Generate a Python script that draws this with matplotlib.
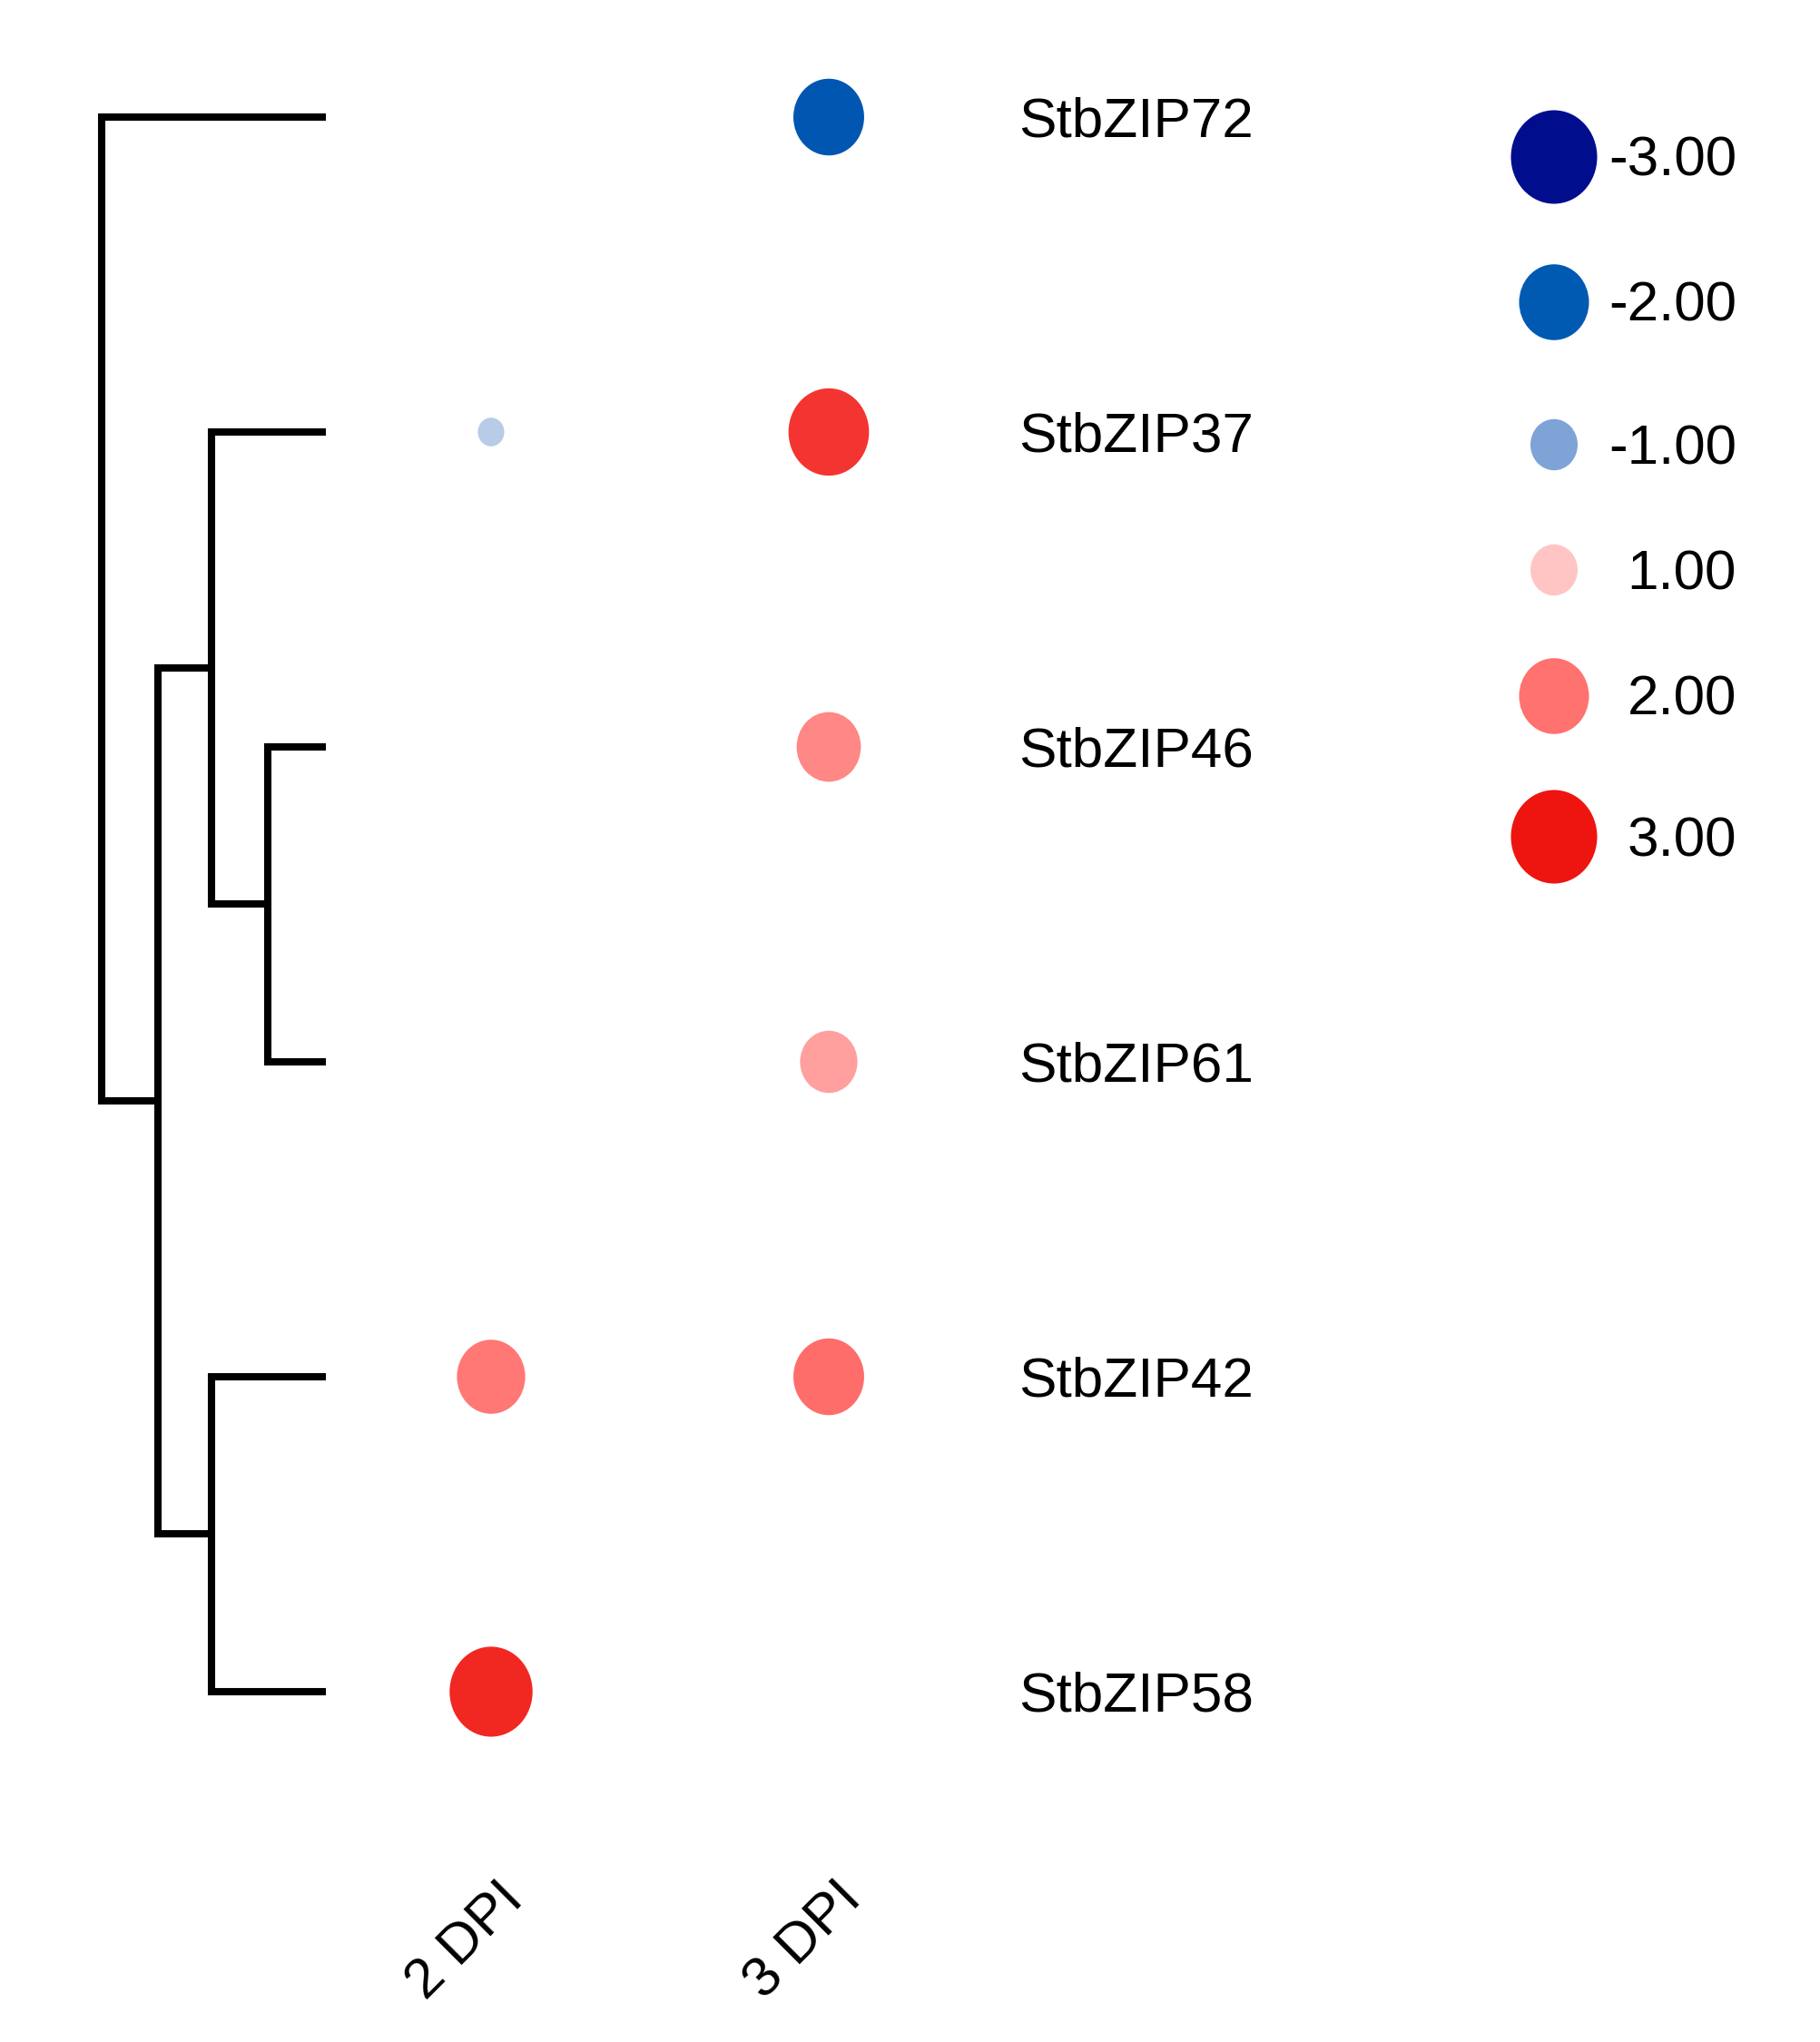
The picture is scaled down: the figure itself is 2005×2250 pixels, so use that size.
import numpy as np
import matplotlib
matplotlib.use("Agg")
import matplotlib.pyplot as plt
from matplotlib.collections import EllipseCollection
from matplotlib.colors import LinearSegmentedColormap, Normalize
import matplotlib.transforms as mtransforms

# ---------------- data ----------------
genes = ["StbZIP72", "StbZIP37", "StbZIP46", "StbZIP61", "StbZIP42", "StbZIP58"]
conditions = ["2 DPI", "3 DPI"]
dpi2_values = [np.nan, -0.56, np.nan, np.nan, 1.93, 2.8]
dpi3_values = [-2.05, 2.65, 1.75, 1.45, 2.05, np.nan]
legend_values = [-3.0, -2.0, -1.0, 1.0, 2.0, 3.0]
legend_labels = ["-3.00", "-2.00", "-1.00", "1.00", "2.00", "3.00"]
# dendrogram merges: (child a, child b, height); leaves 0..5, merges numbered from 6
merges = [(2, 3, 2.6), (1, 6, 5.1), (4, 5, 5.1), (7, 8, 7.5), (0, 9, 10.0)]

# ---------------- style / layout ----------------
W, H, DPI = 2005, 2250, 100
FS = 62 * 72 / DPI  # font size in points (~62 px)
plt.rcParams["font.family"] = ["Liberation Sans", "DejaVu Sans"]

cmap = LinearSegmentedColormap.from_list(
    "bz",
    [(0.0, "#000E8E"), (1 / 6, "#005BB2"), (2 / 6, "#7EA3D6"), (0.5, "#FFFFFF"),
     (4 / 6, "#FFC5C5"), (5 / 6, "#FF7370"), (1.0, "#EE1510")])
norm = Normalize(-3, 3)


def dot_w(v):
    return np.interp(np.abs(v), [0, 1, 2, 3], [0, 52, 77, 95])


ASPECT = 1.085

ROW_TOP_PX, ROW_STEP_PX = 129, 347
AX_TOP_PX, AX_BOT_PX = 40, 2040
COL0_PX, COL_STEP_PX = 541, 372
ylim = ((AX_BOT_PX - ROW_TOP_PX) / ROW_STEP_PX, (AX_TOP_PX - ROW_TOP_PX) / ROW_STEP_PX)


def rect(l, r, t, b):
    return [l / W, 1 - b / H, (r - l) / W, (b - t) / H]


fig = plt.figure(figsize=(W / DPI, H / DPI), dpi=DPI)
fig.patch.set_facecolor("white")

# ---------------- legend (pixel axes) ----------------
ax_leg = fig.add_axes([0, 0, 1, 1])
ax_leg.set_xlim(0, W)
ax_leg.set_ylim(H, 0)
ax_leg.set_axis_off()
leg_y = [173, 333, 490, 628, 767, 922]
leg_x = 1712
lw_ = dot_w(np.array(legend_values))
ax_leg.add_collection(EllipseCollection(
    lw_, lw_ * ASPECT, np.zeros(len(lw_)), units="dots",
    offsets=np.column_stack([np.full(len(leg_y), leg_x), leg_y]),
    offset_transform=ax_leg.transData,
    facecolors=cmap(norm(np.array(legend_values))), edgecolors="none"))
for y, lab in zip(leg_y, legend_labels):
    ax_leg.text(1913, y + 21, lab, ha="right", va="baseline", fontsize=FS, color="black")

# ---------------- dot matrix ----------------
ax = fig.add_axes(rect(360, 1100, AX_TOP_PX, AX_BOT_PX))
ax.set_xlim((360 - COL0_PX) / COL_STEP_PX, (1100 - COL0_PX) / COL_STEP_PX)
ax.set_ylim(*ylim)
ax.set_axis_off()

xs, ys, vals = [], [], []
for ci, series in enumerate([dpi2_values, dpi3_values]):
    for ri, v in enumerate(series):
        if not np.isnan(v):
            xs.append(ci)
            ys.append(ri)
            vals.append(v)
vals = np.array(vals)
w = dot_w(vals)
ax.add_collection(EllipseCollection(
    w, w * ASPECT, np.zeros(len(w)), units="dots",
    offsets=np.column_stack([xs, ys]), offset_transform=ax.transData,
    facecolors=cmap(norm(vals)), edgecolors="none"))

# gene labels
lab_tr = mtransforms.offset_copy(
    mtransforms.blended_transform_factory(ax.transAxes, ax.transData),
    fig=fig, x=22, y=-22, units="dots")
for ri, g in enumerate(genes):
    ax.text(1.0, ri, g, transform=lab_tr, ha="left", va="baseline", fontsize=FS, color="black")

# column labels
col_tr = mtransforms.offset_copy(
    mtransforms.blended_transform_factory(ax.transData, ax.transAxes),
    fig=fig, x=7, y=-24, units="dots")
for ci, c in enumerate(conditions):
    ax.text(ci, 0.0, c, transform=col_tr, rotation=45, rotation_mode="anchor",
            ha="right", va="top", fontsize=FS, color="black")

# ---------------- dendrogram ----------------
ax_d = fig.add_axes(rect(112, 359, AX_TOP_PX, AX_BOT_PX))
ax_d.set_xlim(merges[-1][2], 0)
ax_d.set_ylim(*ylim)
ax_d.set_axis_off()
pos_y = {i: float(i) for i in range(len(genes))}
pos_h = {i: 0.0 for i in range(len(genes))}
for k, (a, b, h) in enumerate(merges):
    node = len(genes) + k
    ax_d.plot([pos_h[a], h, h, pos_h[b]], [pos_y[a], pos_y[a], pos_y[b], pos_y[b]],
              color="black", lw=5.8, solid_joinstyle="miter", solid_capstyle="butt",
              clip_on=False)
    pos_y[node] = (pos_y[a] + pos_y[b]) / 2
    pos_h[node] = h

fig.savefig("out.png", dpi=DPI, facecolor="white")
